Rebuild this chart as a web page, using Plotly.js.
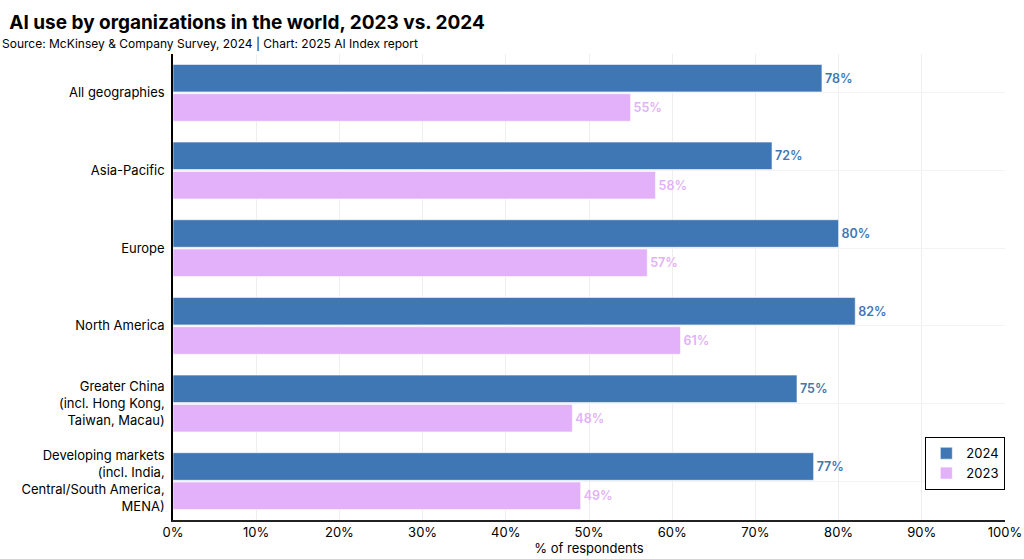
<!DOCTYPE html>
<html><head><meta charset="utf-8">
<script src="https://cdn.plot.ly/plotly-3.0.1.min.js"></script>
<style>body{margin:0;background:#fff}#c{width:1024px;height:559px}</style>
</head><body><div id="c"></div>
<script>
const categories = [
  "All geographies",
  "Asia-Pacific",
  "Europe",
  "North America",
  "Greater China<br>(incl. Hong Kong,<br>Taiwan, Macau)",
  "Developing markets<br>(incl. India,<br>Central/South America,<br>MENA)"
];
const values2024 = [78, 72, 80, 82, 75, 77];
const values2023 = [55, 58, 57, 61, 48, 49];
const xTickVals = [0,10,20,30,40,50,60,70,80,90,100];
const xTickText = xTickVals.map(v => v + "%");

const FONT = "Inter, 'Noto Sans', sans-serif";
const c24 = "#3f76b4", c23 = "#e2b1f9";

const mk = (name, vals, col) => ({
  type: "bar", orientation: "h", name: name,
  y: categories, x: vals,
  marker: {color: col, line: {color: "rgba(255,255,255,0.6)", width: 1}},
  text: vals.map(v => v + "%"), textposition: "outside", cliponaxis: false,
  textfont: {color: col, size: 12.5, family: FONT, weight: 600},
  hoverinfo: "x+name"
});

const data = [mk("2024", values2024, c24), mk("2023", values2023, c23)];

const layout = {
  width: 1024, height: 559,
  margin: {l: 173, r: 19, t: 54, b: 39},
  barmode: "group", bargap: 0.245, bargroupgap: 0.06,
  font: {family: FONT, color: "#000", size: 13},
  paper_bgcolor: "#fff", plot_bgcolor: "#fff",
  title: {text: "<b>AI use by organizations in the world, 2023 vs. 2024</b>", x: 0.009, xanchor: "left", yref: "container", y: 1 - 22/559, yanchor: "middle", font: {size: 19, family: FONT, color: "#000"}},
  annotations: [{
    text: "Source: McKinsey & Company Survey, 2024 | Chart: 2025 AI Index report",
    xref: "paper", yref: "paper", x: -173/832, xanchor: "left", y: 1 + 11/466, yanchor: "middle",
    showarrow: false, font: {size: 12, family: FONT, color: "#000"}
  }],
  xaxis: {
    range: [0, 100], tickvals: xTickVals, ticktext: xTickText,
    showgrid: true, gridcolor: "#eeeeee", gridwidth: 1,
    zeroline: false, showline: true, linecolor: "#222", linewidth: 1.5,
    ticks: "", tickfont: {size: 13, family: FONT},
    title: {text: "% of respondents", font: {size: 13, family: FONT}, standoff: 5}
  },
  yaxis: {
    autorange: "reversed", showgrid: true, gridcolor: "#f3f3f3",
    showline: true, linecolor: "#000", linewidth: 1.5, ticks: "",
    tickfont: {size: 13, family: FONT}, ticklabelstandoff: 4
  },
  legend: {
    x: 0.904, xanchor: "left", y: 0.178, yanchor: "top",
    bordercolor: "#000", borderwidth: 1.2, bgcolor: "#fff",
    font: {size: 13, family: FONT}, itemwidth: 30, tracegroupgap: 0
  },
  showlegend: true
};
Plotly.newPlot("c", data, layout, {displayModeBar: false});
</script></body></html>
